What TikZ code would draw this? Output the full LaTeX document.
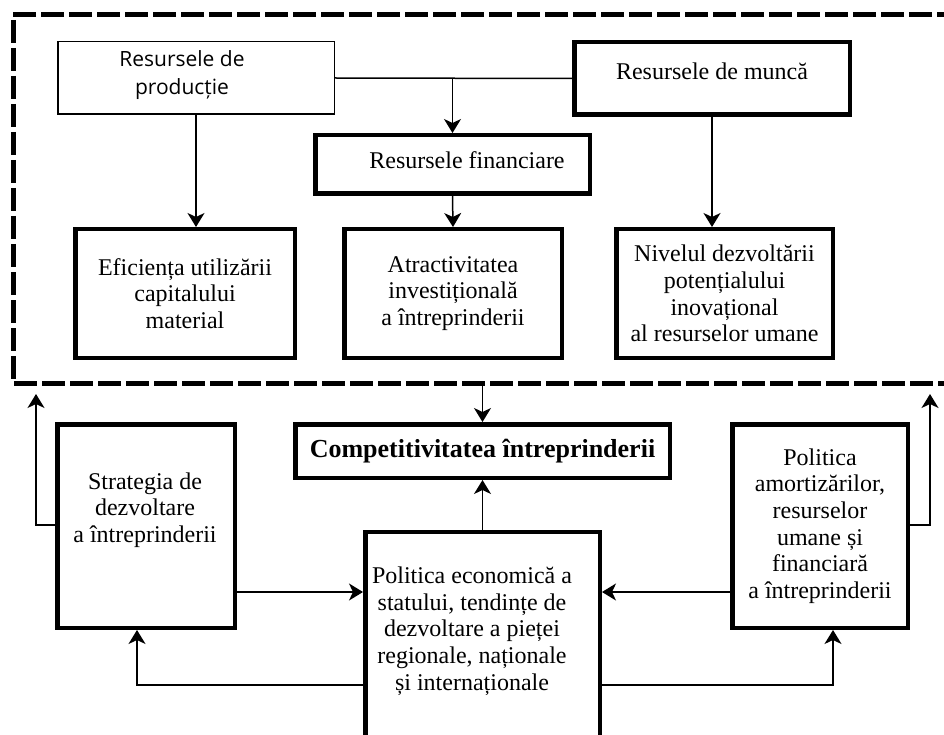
\documentclass[tikz,border=0pt]{standalone}
\usepackage{fontspec}
\setmainfont{Liberation Serif}
\newfontfamily\labelsans{Open Sans}
\usetikzlibrary{arrows.meta}

\begin{document}
\begin{tikzpicture}[x=1pt,y=-1pt,
  thinbox/.style={draw, line width=1.5pt, inner sep=0pt},
  thickbox/.style={draw, line width=4.5pt, inner sep=0pt},
  lbl/.style={align=center, inner sep=0pt, font=\fontsize{24}{26.7}\selectfont},
  sanslbl/.style={align=center, inner sep=0pt, font=\labelsans\fontsize{21}{28}\selectfont},
  conn/.style={line width=1.5pt},
  arr/.style={conn, -{Stealth[length=14pt,width=17pt,inset=4pt]}},
  frame/.style={line width=5pt, dash pattern=on 23pt off 5pt}
]
\clip (0,0) rectangle (944,735);

% dashed frame round the resource block (open to the right)
\coordinate (fr-tr) at (960,15);
\coordinate (fr-tl) at (13,15);
\coordinate (fr-bl) at (13,383);
\coordinate (fr-br) at (960,383);
\draw[frame] (fr-tr) -- (fr-tl) -- (fr-bl) -- (fr-br);

% resources
\node[thinbox, minimum width=276.5pt, minimum height=72.5pt] (prod) at (196,78) {};
\node[sanslbl] (prod-t) at (182,75) {Resursele de\\producție};
\node[thickbox, minimum width=275.5pt, minimum height=72.5pt] (munca) at (712,78.5) {};
\node[lbl] (munca-t) at (712,71) {Resursele de muncă};
\node[thickbox, minimum width=274.5pt, minimum height=58.5pt] (fin) at (452.5,164.5) {};
\node[lbl] (fin-t) at (467,160) {Resursele financiare};

% effects
\node[thickbox, lbl, minimum width=219.5pt, minimum height=128.5pt] (efic) at (185,293.5)
  {Eficiența utilizării\\capitalului\\material};
\node[thickbox, lbl, minimum width=217.5pt, minimum height=128.5pt] (atr) at (453,293.5)
  {Atractivitatea\\investițională\\a întreprinderii};
\node[thickbox, lbl, minimum width=216.5pt, minimum height=128.5pt] (niv) at (724.5,293.5)
  {Nivelul dezvoltării\\potențialului\\inovațional\\al resurselor umane};

% lower part
\node[thickbox, minimum width=374.5pt, minimum height=53.5pt,
  font=\bfseries\fontsize{26}{30}\selectfont] (comp) at (482.5,451)
  {Competitivitatea întreprinderii};
\node[thickbox, minimum width=177.5pt, minimum height=203.5pt] (strat) at (146,526) {};
\node[lbl] (strat-t) at (145,510) {Strategia de\\dezvoltare\\a întreprinderii};
\node[thickbox, lbl, minimum width=175.5pt, minimum height=203.5pt] (amort) at (820,526)
  {Politica\\amortizărilor,\\resurselor\\umane și\\financiară\\a întreprinderii};
\node[thickbox, minimum width=234.5pt, minimum height=268pt] (pol) at (482.5,666) {};
\node[lbl] (pol-t) at (472,631) {Politica economică a\\statului, tendințe de\\dezvoltare a pieței\\regionale, naționale\\și internaționale};

% connectors in the resource block
\coordinate (split) at (fin.north |- prod.east);
\draw[conn] (prod.east) -- (munca.west);
\draw[arr] (split) -- (fin.north);
\draw[arr] (prod.south) -- (prod.south |- efic.north);
\draw[arr] (fin.south) -- (atr.north);
\draw[arr] (munca.south) -- (munca.south |- niv.north);

% connectors in the lower part
\coordinate (frame-out) at (comp.north |- fr-bl);
\draw[arr] (frame-out) -- (comp.north);
\draw[arr] (pol.north) -- (comp.south);

\coordinate (rowA) at (0,592);
\coordinate (rowB) at (0,685);
\coordinate (rowC) at (0,525);
\coordinate (upL) at (36,394);
\coordinate (upR) at (930,394);

\draw[arr] (strat.east |- rowA) -- (pol.west |- rowA);
\draw[arr] (amort.west |- rowA) -- (pol.east |- rowA);
\draw[arr] (pol.west |- rowB) -| ([xshift=-9pt]strat.south);
\draw[arr] (pol.east |- rowB) -| ([xshift=13pt]amort.south);
\draw[arr] (strat.west |- rowC) -| (upL);
\draw[arr] (amort.east |- rowC) -| (upR);
\end{tikzpicture}
\end{document}
